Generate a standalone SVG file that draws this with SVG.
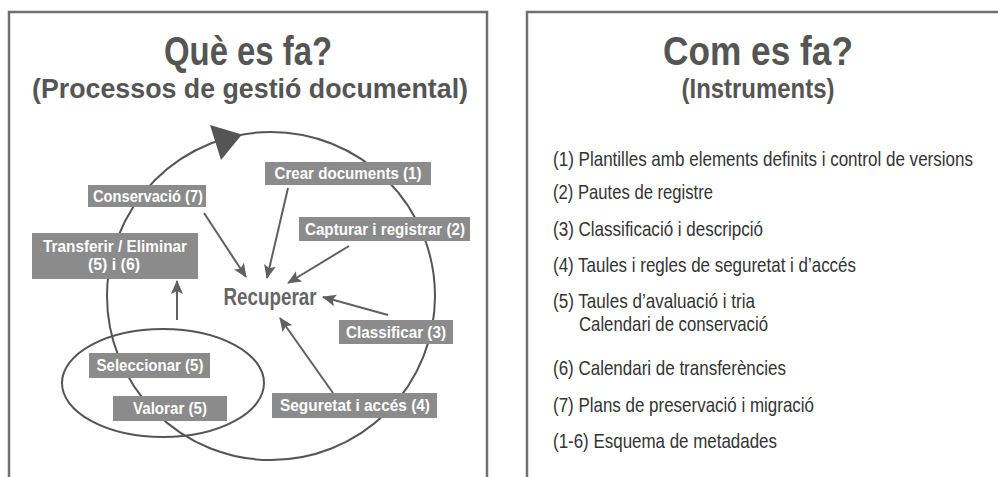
<svg xmlns="http://www.w3.org/2000/svg" width="998" height="477" viewBox="0 0 998 477">
<defs>
<style>
.panel{fill:none;stroke:#707070;stroke-width:2.5}
.title{font-family:"Liberation Sans",Arial,sans-serif;font-weight:bold;fill:#555555}
.box{fill:#8b8b8b}
.lbl{font-family:"Liberation Sans",Arial,sans-serif;font-weight:bold;font-size:16.5px;fill:#ffffff}
.ring{fill:none;stroke:#555555;stroke-width:2}
.arr{stroke:#606060;stroke-width:2;fill:none;marker-end:url(#ah)}
.item{font-family:"Liberation Sans",Arial,sans-serif;font-size:20.5px;fill:#333333}
</style>
<marker id="ah" markerUnits="userSpaceOnUse" markerWidth="14" markerHeight="12" refX="13" refY="6" orient="auto">
<path d="M0,0 L14,6 L0,12 L3,6 z" fill="#606060"/>
</marker>
</defs>
<rect width="998" height="477" fill="#ffffff"/>
<g id="panel-left">
<path class="panel" d="M9,477 V12 H487 V477"/>
<text class="title" x="248" y="65" font-size="41" text-anchor="middle" textLength="168" lengthAdjust="spacingAndGlyphs">Què es fa?</text>
<text class="title" x="250" y="98" font-size="28.5" text-anchor="middle" textLength="436" lengthAdjust="spacingAndGlyphs">(Processos de gestió documental)</text>
</g>
<g id="panel-right">
<path class="panel" d="M527,477 V12 H1000"/>
<text class="title" x="758" y="65" font-size="41" text-anchor="middle" textLength="190" lengthAdjust="spacingAndGlyphs">Com es fa?</text>
<text class="title" x="758" y="98" font-size="28.5" text-anchor="middle" textLength="153" lengthAdjust="spacingAndGlyphs">(Instruments)</text>
</g>
<g id="cycle">
<circle class="ring" cx="271" cy="296" r="164"/>
<path d="M242,134.5 L210,125 L221,160 z" fill="#555555"/>
</g>
<g id="ellipse-valorar">
<ellipse class="ring" cx="163" cy="383" rx="101" ry="54"/>
</g>
<g id="connectors">
<line class="arr" x1="204" y1="213" x2="246" y2="277"/>
<line class="arr" x1="288" y1="188" x2="267" y2="278"/>
<line class="arr" x1="349" y1="246" x2="288" y2="283"/>
<line class="arr" x1="388" y1="315" x2="323" y2="297"/>
<line class="arr" x1="333" y1="393" x2="280" y2="318"/>
<line class="arr" x1="177" y1="320" x2="177" y2="281"/>
</g>
<g id="recuperar">
<text x="270" y="305" font-family="Liberation Sans,Arial,sans-serif" font-weight="bold" font-size="24" fill="#666666" text-anchor="middle" textLength="93" lengthAdjust="spacingAndGlyphs">Recuperar</text>
</g>
<g id="crear">
<rect class="box" x="265" y="162" width="166" height="23"/>
<text class="lbl" x="348" y="179" text-anchor="middle" textLength="147" lengthAdjust="spacingAndGlyphs">Crear documents (1)</text>
</g>
<g id="conservacio">
<rect class="box" x="88" y="185" width="118" height="22"/>
<text class="lbl" x="148" y="202" text-anchor="middle" textLength="110" lengthAdjust="spacingAndGlyphs">Conservació (7)</text>
</g>
<g id="capturar">
<rect class="box" x="299" y="217" width="171" height="24"/>
<text class="lbl" x="385" y="235" text-anchor="middle" textLength="160" lengthAdjust="spacingAndGlyphs">Capturar i registrar (2)</text>
</g>
<g id="transferir">
<rect class="box" x="32" y="233" width="166" height="46"/>
<text class="lbl" x="115" y="252" text-anchor="middle" textLength="144" lengthAdjust="spacingAndGlyphs">Transferir / Eliminar</text>
<text class="lbl" x="114" y="270" text-anchor="middle" textLength="52" lengthAdjust="spacingAndGlyphs">(5) i (6)</text>
</g>
<g id="classificar">
<rect class="box" x="339" y="320" width="114" height="24"/>
<text class="lbl" x="396" y="338" text-anchor="middle" textLength="100" lengthAdjust="spacingAndGlyphs">Classificar (3)</text>
</g>
<g id="seleccionar">
<rect class="box" x="89" y="353" width="121" height="25"/>
<text class="lbl" x="150" y="371" text-anchor="middle" textLength="107" lengthAdjust="spacingAndGlyphs">Seleccionar (5)</text>
</g>
<g id="valorar">
<rect class="box" x="113" y="396" width="114" height="25"/>
<text class="lbl" x="170" y="414" text-anchor="middle" textLength="74" lengthAdjust="spacingAndGlyphs">Valorar (5)</text>
</g>
<g id="seguretat">
<rect class="box" x="272" y="393" width="165" height="25"/>
<text class="lbl" x="355" y="411" text-anchor="middle" textLength="150" lengthAdjust="spacingAndGlyphs">Seguretat i accés (4)</text>
</g>
<g id="instruments" transform="scale(0.8,1)">
<text class="item" x="691.25" y="166" textLength="525" lengthAdjust="spacingAndGlyphs">(1)  Plantilles amb elements definits i control de versions</text>
<text class="item" x="691.25" y="199" textLength="200" lengthAdjust="spacingAndGlyphs">(2)  Pautes de registre</text>
<text class="item" x="691.25" y="236" textLength="262.5" lengthAdjust="spacingAndGlyphs">(3) Classificació i descripció</text>
<text class="item" x="691.25" y="272" textLength="378.75" lengthAdjust="spacingAndGlyphs">(4) Taules i regles de seguretat i d’accés</text>
<text class="item" x="691.25" y="308" textLength="252.5" lengthAdjust="spacingAndGlyphs">(5)  Taules d’avaluació i tria</text>
<text class="item" x="723.75" y="331" textLength="236.25" lengthAdjust="spacingAndGlyphs">Calendari de conservació</text>
<text class="item" x="691.25" y="375" textLength="291.25" lengthAdjust="spacingAndGlyphs">(6)  Calendari de transferències</text>
<text class="item" x="691.25" y="412" textLength="326.25" lengthAdjust="spacingAndGlyphs">(7)  Plans de preservació i migració</text>
<text class="item" x="691.25" y="448" textLength="280" lengthAdjust="spacingAndGlyphs">(1-6) Esquema de metadades</text>
</g>
</svg>
